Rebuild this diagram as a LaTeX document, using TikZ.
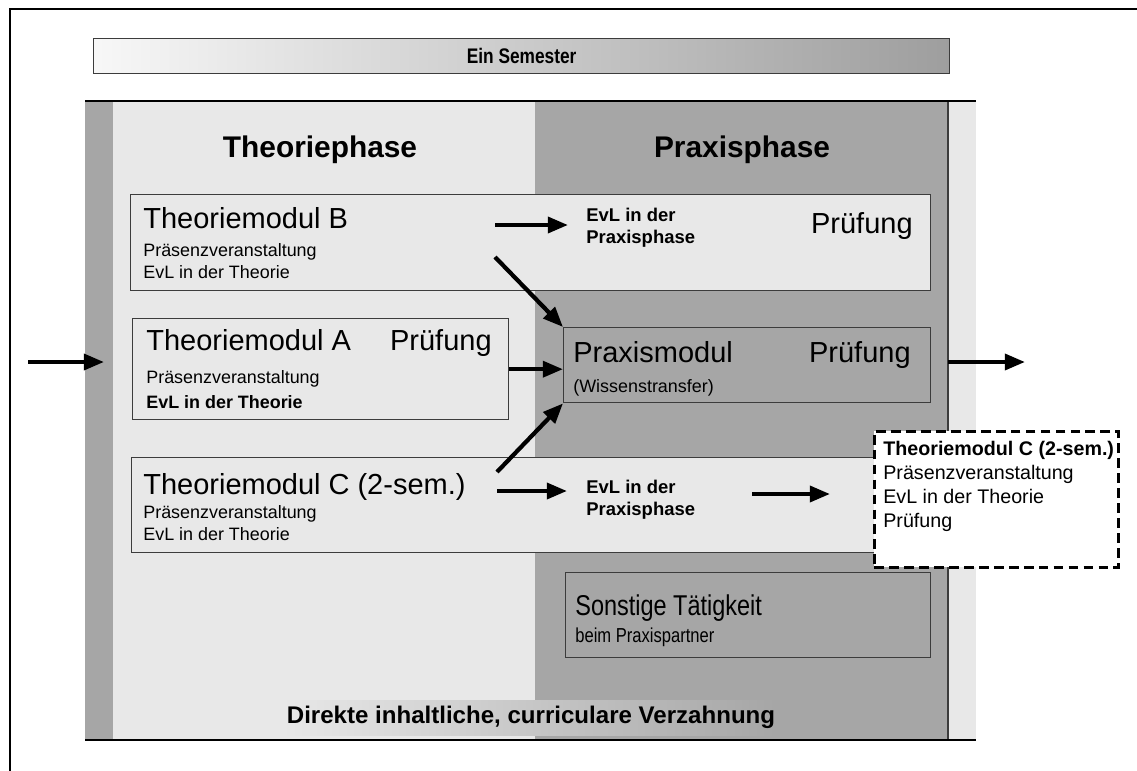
\documentclass[tikz,border=0pt]{standalone}
\usepackage{fontspec}
\setmainfont{Liberation Sans}
\newfontfamily\narrowfont[FakeStretch=0.82]{Liberation Sans}
\usetikzlibrary{arrows.meta,positioning}

\definecolor{theoGray}{RGB}{232,232,232}
\definecolor{praxGray}{RGB}{166,166,166}
\definecolor{lineGray}{RGB}{60,60,60}

\begin{document}
\begin{tikzpicture}[x=0.02cm,y=-0.02cm,>={Triangle[length=11.5pt,width=9pt]},
                    flow/.style={->,line width=2.4pt},
                    mod box/.style={draw=lineGray,line width=0.8pt,inner sep=0pt,anchor=north west},
                    big/.style={font=\fontsize{16.5}{19}\selectfont,inner sep=0pt},
                    small/.style={font=\fontsize{10.2}{12}\selectfont,inner sep=0pt},
                    evl/.style={font=\bfseries\fontsize{10.5}{12.3}\selectfont,align=left,inner sep=0pt,anchor=west},
                    heading/.style={font=\bfseries\fontsize{17}{20}\selectfont,inner sep=0pt}]
  \useasboundingbox (0,0) rectangle (1137,771);
  % frame
  \draw[line width=1.2pt] (10,771) -- (10,9) -- (1137,9);
  % phases
  \fill[praxGray] (85,101) rectangle (113,740);
  \fill[theoGray] (113,101) rectangle (535,740);
  \fill[praxGray] (535,101) rectangle (948,740);
  \fill[theoGray] (948,101) rectangle (976,740);
  \draw[lineGray,line width=0.6pt] (948,101) -- (948,740);
  \draw[line width=1.2pt] (85,101) -- (976,101);
  \draw[line width=1.2pt] (85,740) -- (976,740);
  \fill[left color=theoGray,right color=praxGray] (283,700) rectangle (775,735);

  \node[mod box,left color=black!3,right color=black!38,minimum width=17.12cm,minimum height=0.7cm,
        font=\narrowfont\bfseries\fontsize{12}{14}\selectfont] (semester) at (93,38) {Ein Semester};
  \node[heading] (theoHead) at (320,150) {Theoriephase};
  \node[heading] (praxHead) at (742,150) {Praxisphase};

  % Theoriemodul B
  \node[mod box,fill=theoGray,minimum width=16cm,minimum height=1.92cm] (modB) at (130,194) {};
  \node[big,anchor=base west] (modBtitle) at (143,228) {Theoriemodul B};
  \node[small,anchor=base west] (modBpres) at (143,256) {Präsenzveranstaltung};
  \node[small,anchor=base west] (modBevl) at (143,278) {EvL in der Theorie};
  \node[big,anchor=base east] (modBexam) at (913,233) {Prüfung};
  \node[evl] (evlB) at (586,228) {EvL in der\\Praxisphase};

  % Theoriemodul A
  \node[mod box,fill=theoGray,minimum width=7.52cm,minimum height=2.02cm] (modA) at (132,318) {};
  \node[big,anchor=base west] (modAtitle) at (146,350) {Theoriemodul A};
  \node[big,anchor=base east] (modAexam) at (492,350) {Prüfung};
  \node[small,anchor=base west] (modApres) at (146,383) {Präsenzveranstaltung};
  \node[small,anchor=base west,font=\bfseries\fontsize{10.2}{12}\selectfont] (modAevl) at (146,408) {EvL in der Theorie};

  % Praxismodul
  \node[mod box,fill=praxGray,minimum width=7.34cm,minimum height=1.5cm] (praxis) at (563,327) {};
  \node[big,anchor=base west] (praxTitle) at (573,362) {Praxismodul};
  \node[big,anchor=base east] (praxExam) at (911,362) {Prüfung};
  \node[small,anchor=base west] (praxNote) at (573,392) {(Wissenstransfer)};

  % Theoriemodul C
  \node[mod box,fill=theoGray,minimum width=15.98cm,minimum height=1.9cm] (modC) at (131,457) {};
  \node[big,anchor=base west] (modCtitle) at (143,494) {Theoriemodul C (2-sem.)};
  \node[small,anchor=base west] (modCpres) at (143,518) {Präsenzveranstaltung};
  \node[small,anchor=base west] (modCevl) at (143,540) {EvL in der Theorie};
  \node[evl] (evlC) at (586,500) {EvL in der\\Praxisphase};

  % naechstes Semester
  \node[mod box,draw=black,fill=white,line width=1.7pt,dash pattern=on 5.5pt off 3pt,
        minimum width=4.88cm,minimum height=2.72cm] (nextC) at (873,430) {};
  \node[anchor=north west,align=left,inner sep=0pt,font=\fontsize{11.2}{13.6}\selectfont]
    (nextCtext) at (883,441) {\textbf{Theoriemodul C (2-sem.)}\\Präsenzveranstaltung\\EvL in der Theorie\\Prüfung};

  % Sonstige Taetigkeit
  \node[mod box,fill=praxGray,minimum width=7.3cm,minimum height=1.7cm] (other) at (565,572) {};
  \node[anchor=base west,inner sep=0pt,font=\narrowfont\fontsize{16.3}{18}\selectfont] (otherTitle) at (575,615) {Sonstige Tätigkeit};
  \node[anchor=base west,inner sep=0pt,font=\narrowfont\fontsize{11.5}{14}\selectfont] (otherNote) at (575,642) {beim Praxispartner};

  \node[font=\bfseries\fontsize{13.7}{16}\selectfont,inner sep=0pt] (link) at (531,717) {Direkte inhaltliche, curriculare Verzahnung};

  % arrows
  \coordinate (entry) at (28,362);
  \coordinate (entryTip) at (104,362);
  \coordinate (exitFrom) at (948,362);
  \coordinate (exitTip) at (1025,362);
  \coordinate (bRight) at (495,225);
  \coordinate (bRightTip) at (568,225);
  \coordinate (bDown) at (495,257);
  \coordinate (cUp) at (497,472);
  \coordinate (cRight) at (497,491);
  \coordinate (cRightTip) at (567,491);
  \coordinate (cOut) at (752,494);
  \coordinate (cOutTip) at (830,494);
  \draw[flow] (entry) -- (entryTip);
  \draw[flow] (exitFrom) -- (exitTip);
  \draw[flow] (bRight) -- (bRightTip);
  \draw[flow] (bDown) -- (praxis.north west);
  \draw[flow] (modA.east) -- (modA.east -| praxis.west);
  \draw[flow] (cUp) -- (praxis.south west);
  \draw[flow] (cRight) -- (cRightTip);
  \draw[flow] (cOut) -- (cOutTip);
\end{tikzpicture}
\end{document}
